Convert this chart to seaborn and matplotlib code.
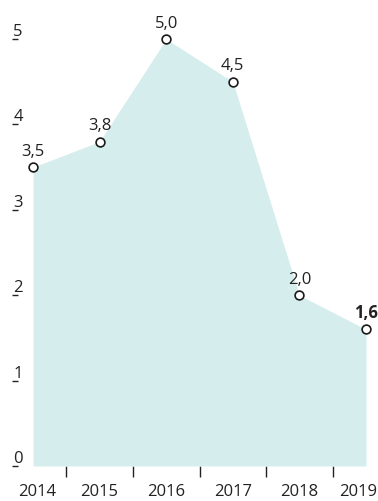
import numpy as np
import pandas as pd
import seaborn as sns
import matplotlib.pyplot as plt
import matplotlib.transforms as mtransforms

sns.set_style('white')
plt.rcParams['font.family'] = ['Open Sans', 'DejaVu Sans']

years = ['2014', '2015', '2016', '2017', '2018', '2019']
values = [3.5, 3.8, 5.0, 4.5, 2.0, 1.6]
y_ticks = [0, 1, 2, 3, 4, 5]

df = pd.DataFrame({'pos': np.arange(len(years)), 'value': values})

fig = plt.figure(figsize=(3.78, 5.02), dpi=100)
ax = fig.add_axes([33 / 378, 35 / 502, 333 / 378, 444 / 502])

# filled area + markers
ax.fill_between(df['pos'], df['value'], 0, color='#d6eded', linewidth=0, zorder=1)
sns.scatterplot(data=df, x='pos', y='value', ax=ax, s=40, color='white',
                edgecolor='#1a1a1a', linewidth=1.2, zorder=3, clip_on=False)

# value labels
for i, (x, v) in enumerate(zip(df['pos'], df['value'])):
    label = f'{v:.1f}'.replace('.', ',')
    last = i == len(values) - 1
    ax.annotate(label, (x, v), xytext=(0, 6), textcoords='offset points',
                ha='center', va='bottom', fontsize=12, color='#222222',
                fontweight='bold' if last else 'normal')

ax.set_xlim(0, len(years) - 1)
ax.set_ylim(0, 5.2)

# x axis: marks between years, labels on years
ax.set_xticks(np.arange(len(years) - 1) + 0.5)
ax.set_xticklabels([])
ax.set_xticks(df['pos'], minor=True)
ax.set_xticklabels(years, minor=True, fontsize=12, color='#222222')
ax.tick_params(axis='x', which='major', bottom=True, length=8, width=1,
               color='#222222', direction='out')
ax.tick_params(axis='x', which='minor', bottom=True, length=0, pad=12)
shifts = {0: 4, len(years) - 1: -8}
for i, lab in enumerate(ax.get_xticklabels(minor=True)):
    if i in shifts:
        lab.set_transform(lab.get_transform() +
                          mtransforms.ScaledTranslation(shifts[i] / 100, 0, fig.dpi_scale_trans))

# y axis: small mark under each label (spine pushed out 21 px)
ax.spines['left'].set_position(('outward', 21 * 72 / 100))
ax.set_yticks(y_ticks)
ax.set_yticklabels([str(t) for t in y_ticks], fontsize=12, color='#222222',
                   ha='left', va='bottom')
ax.tick_params(axis='y', left=True, length=4, width=1, direction='in',
               color='#222222', pad=-1)

for s in ax.spines.values():
    s.set_visible(False)
ax.set_xlabel('')
ax.set_ylabel('')

plt.savefig('out.png', dpi=100)
plt.close()
